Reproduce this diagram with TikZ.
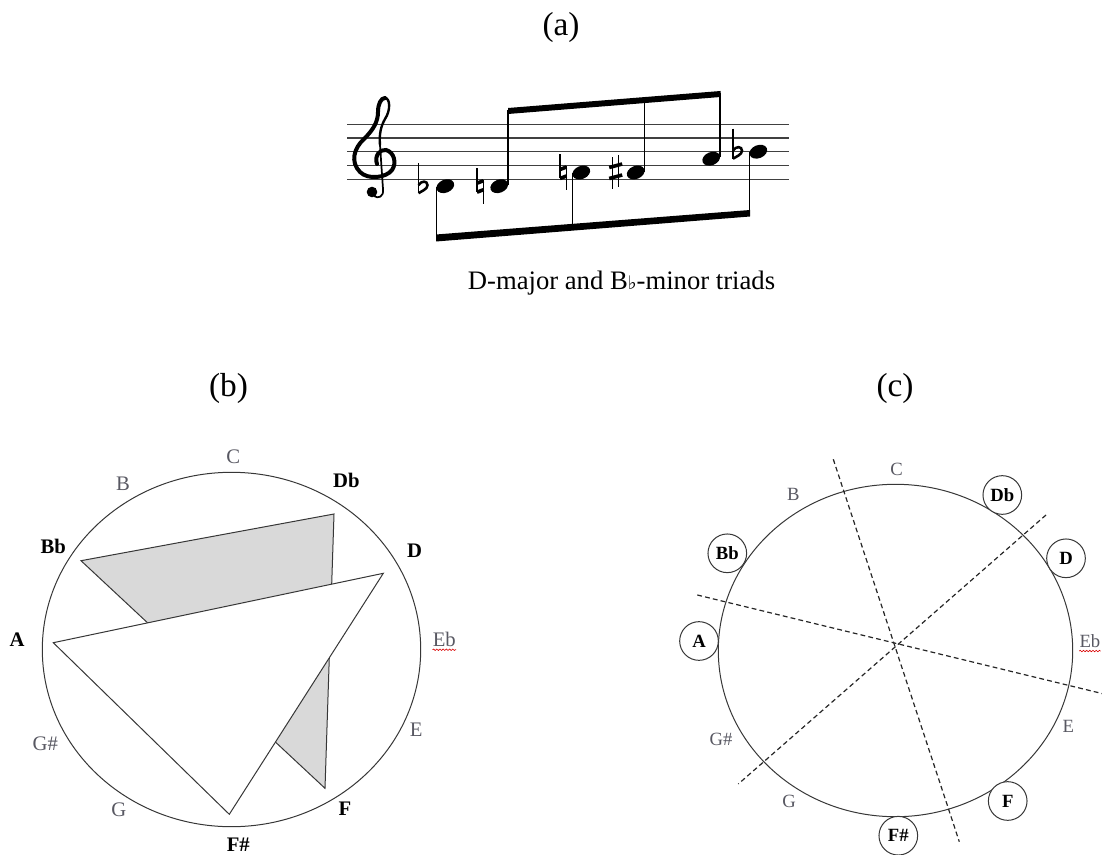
\documentclass[tikz,border=0pt]{standalone}
\usepackage{fontspec}
\setmainfont{Liberation Serif}
\newfontfamily\symfont{DejaVu Sans}
\usetikzlibrary{decorations.pathmorphing}
\definecolor{lblgray}{RGB}{88,88,98}
\definecolor{fillgray}{RGB}{217,217,217}
\definecolor{linegray}{RGB}{55,55,55}
\newcommand{\myflat}[2]{\begin{scope}[shift={(#1,#2)}]
  \draw[line width=1.1pt] (0,-23) -- (0,7);
  \draw[line width=1.9pt] (0,-1) .. controls (3,-6) and (9,-5.5) .. (9,-1) .. controls (9,3) and (3,5) .. (0,7);
\end{scope}}
\newcommand{\mynatural}[2]{\begin{scope}[shift={(#1,#2)}]
  \draw[line width=1.1pt] (0,-18) -- (0,6) (6.5,-6) -- (6.5,18);
  \draw[line width=2.7pt] (0,-3) -- (6.5,-5.5) (0,6) -- (6.5,3.5);
\end{scope}}
\newcommand{\mysharp}[2]{\begin{scope}[shift={(#1,#2)}]
  \draw[line width=1.1pt] (0,-15) -- (0,17) (5.8,-17) -- (5.8,15);
  \draw[line width=2.7pt] (-3.5,-5) -- (9.5,-8.5) (-3.5,6) -- (9.5,2.5);
\end{scope}}
\newcommand{\mynote}[2]{\fill[rotate around={22:(#1,#2)}] (#1,#2) ellipse (9.2 and 6.5);}
\begin{document}
\begin{tikzpicture}[x=0.75pt,y=-0.75pt,
  title/.style={font=\fontsize{25}{30}\selectfont, inner sep=0pt},
  glbl/.style={text=lblgray, font=\fontsize{15.5}{18}\selectfont, inner sep=0pt},
  blbl/.style={text=black, font=\fontsize{15.5}{18}\selectfont\bfseries, inner sep=0pt},
  cglbl/.style={text=lblgray, font=\fontsize{14}{16}\selectfont, inner sep=0pt},
  ring/.style={circle, draw=linegray, line width=0.75pt, minimum size=29pt, inner sep=0pt, font=\fontsize{14}{16}\selectfont\bfseries},
  outline/.style={draw=linegray, line width=0.75pt},
  dashline/.style={draw=black!85, line width=0.9pt, dash pattern=on 3.6pt off 2.4pt},
  stemline/.style={line width=0.9pt},
  staffline/.style={draw=black!75, line width=1pt},
  squiggle/.style={draw=red!85!black, line width=0.45pt, decorate, decoration={snake, amplitude=0.55pt, segment length=2.4pt}}]
\useasboundingbox (0,0) rectangle (1102,855);

% ---------- (a) ----------
\node[title] (ta) at (561,27.5) {(a)};
\foreach \yy in {124.3,138.0,151.7,165.5,179.3}
  \draw[staffline] (347,\yy) -- (788.5,\yy);
% treble clef
\draw[line width=3pt, line cap=round] (377,164)
 .. controls (374,156) and (380,149) .. (386,150)
 .. controls (394,152) and (397,163) .. (392,170)
 .. controls (386,178) and (368,180) .. (360,172)
 .. controls (350,162) and (354,148) .. (364,139)
 .. controls (373,130) and (378,122) .. (378,112)
 .. controls (378,104) and (381,98) .. (385,98);
\draw[line width=1.8pt, line cap=round] (385,98)
 .. controls (390,98) and (391,110) .. (385,119)
 .. controls (381,126) and (379,134) .. (380,145);
\draw[line width=1.3pt] (380,145) -- (383,189) .. controls (384,197) and (378,199) .. (374,196);
\fill (372,192) circle (5.3);
% accidentals
\myflat{418.5}{186.2}
\mynatural{477}{186.2}
\mynatural{560}{172.5}
\mysharp{612.7}{172.5}
\myflat{733}{151.7}
% note heads
\mynote{445.3}{186.2}
\mynote{499.2}{186.2}
\mynote{581.3}{172.5}
\mynote{635.7}{172.5}
\mynote{711.2}{158.7}
\mynote{758.3}{151.7}
% stems
\draw[stemline] (436.5,187) -- (436.5,238);
\draw[stemline] (508,185) -- (508,110);
\draw[stemline] (572.5,173) -- (572.5,226);
\draw[stemline] (644.5,172) -- (644.5,100);
\draw[stemline] (720,157) -- (720,93);
\draw[stemline] (749.5,152) -- (749.5,213);
% beams
\fill (508,108) -- (720.5,91) -- (720.5,97) -- (508,114) -- cycle;
\fill (436,234.5) -- (750,210) -- (750,216.5) -- (436,241.5) -- cycle;
\node[anchor=base, font=\fontsize{20}{24}\selectfont, inner sep=0pt] (cap) at (621.5,290)
  {D-major and B{\symfont\fontsize{14}{14}\selectfont ♭}-minor triads};

% ---------- (b) ----------
\node[title] (tb) at (228.5,388.5) {(b)};
\draw[outline] (231.5,649.5) ellipse (189.2 and 177.2);
\coordinate (gBb) at (81,560.7);
\coordinate (gDb) at (334,514);
\coordinate (gF) at (325,788.3);
\coordinate (wA) at (53.3,642.7);
\coordinate (wD) at (383.3,573.3);
\coordinate (wFs) at (229.3,814.3);
\filldraw[outline, fill=fillgray] (gBb) -- (gDb) -- (gF) -- cycle;
\filldraw[outline, fill=white] (wA) -- (wD) -- (wFs) -- cycle;
\node[glbl] (bC) at (233.3,456.3) {C};
\node[glbl] (bB) at (123,483.7) {B};
\node[blbl] (bDb) at (346.3,480) {Db};
\node[blbl] (bBb) at (53.3,546.7) {Bb};
\node[blbl] (bD) at (414.5,550.7) {D};
\node[blbl] (bA) at (17,639.5) {A};
\node[glbl] (bEb) at (444.3,639) {Eb};
\draw[squiggle] ([yshift=-2.4pt]bEb.south west) -- ([yshift=-2.4pt]bEb.south east);
\node[glbl] (bE) at (416.3,730) {E};
\node[glbl] (bGs) at (45.3,743.3) {G\#};
\node[glbl] (bG) at (118.8,810) {G};
\node[blbl] (bF) at (345,808.3) {F};
\node[blbl] (bFs) at (238.3,844.5) {F\#};

% ---------- (c) ----------
\node[title] (tc) at (895,388.5) {(c)};
\draw[outline] (895.5,650.5) ellipse (177.2 and 166.2);
\coordinate (d1a) at (833.3,459.3);
\coordinate (d1b) at (959.3,841.7);
\coordinate (d2a) at (1046,515);
\coordinate (d2b) at (738.3,784);
\coordinate (d3a) at (697.3,595);
\coordinate (d3b) at (1104,694);
\draw[dashline] (d1a) -- (d1b);
\draw[dashline] (d2a) -- (d2b);
\draw[dashline] (d3a) -- (d3b);
\node[cglbl] (cC) at (896.7,469.3) {C};
\node[cglbl] (cB) at (793.3,494.3) {B};
\node[ring, fill=white] (cDb) at (1002.3,495) {Db};
\node[ring, fill=white] (cD) at (1066,558.3) {D};
\node[ring, fill=white] (cBb) at (727.3,553.3) {Bb};
\node[ring, fill=white] (cA) at (699,641) {A};
\node[cglbl, anchor=east] (cEb) at (1100.5,641) {Eb};
\draw[squiggle] ([yshift=-2.4pt]cEb.south west) -- ([yshift=-2.4pt]cEb.south east);
\node[cglbl] (cE) at (1068.3,726.7) {E};
\node[cglbl] (cGs) at (721,739) {G\#};
\node[cglbl] (cG) at (789,801) {G};
\node[ring, fill=white] (cF) at (1007.7,801) {F};
\node[ring, fill=white] (cFs) at (898.3,835.7) {F\#};
\end{tikzpicture}
\end{document}
